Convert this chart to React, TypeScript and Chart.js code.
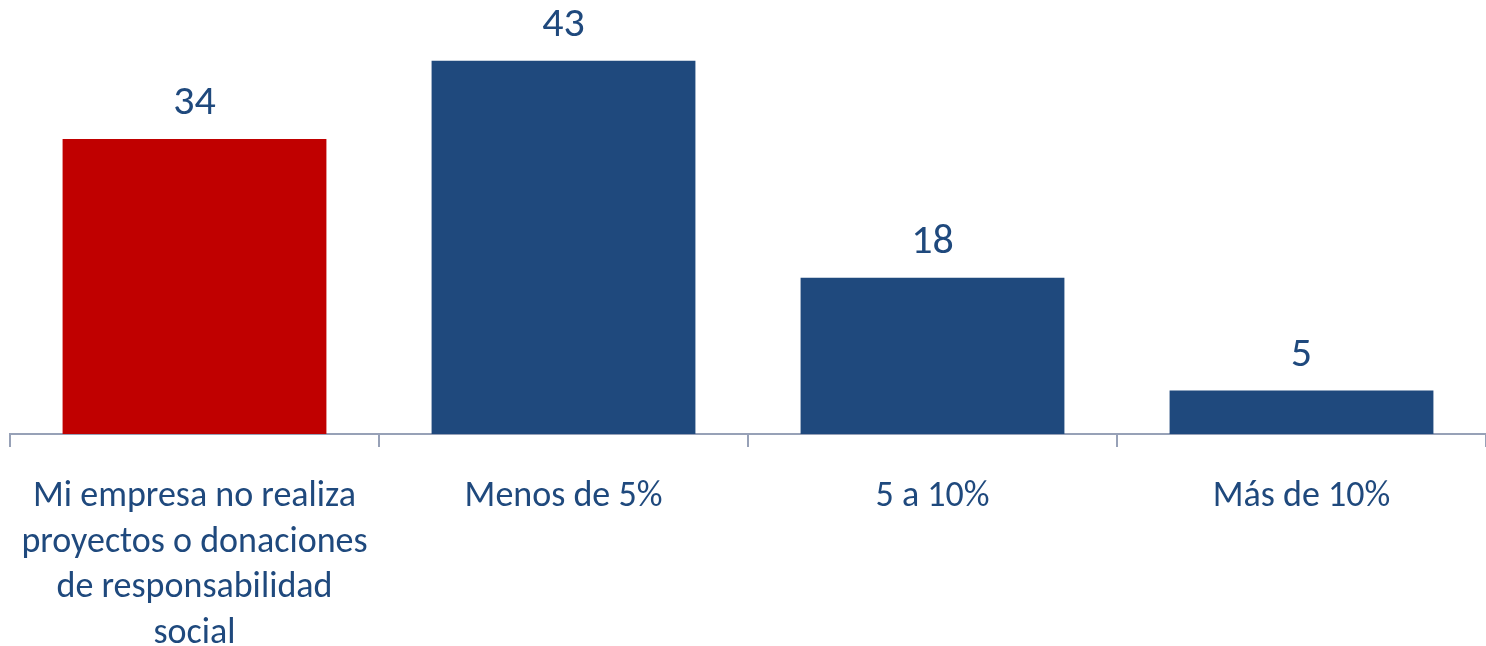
import React, { useEffect, useRef } from "react";
import { Chart, registerables } from "chart.js";

Chart.register(...registerables);

const categories: string[][] = [
  ["Mi empresa no realiza", "proyectos o donaciones", "de responsabilidad", "social"],
  ["Menos de 5%"],
  ["5 a 10%"],
  ["Más de 10%"],
];
const values: number[] = [34, 43, 18, 5];
const barColors: string[] = ["#C00000", "#1F497D", "#1F497D", "#1F497D"];

const FONT = "Carlito, Lato, sans-serif";
const TEXT = "#1F497D";

const valueLabels = {
  id: "valueLabels",
  afterDatasetsDraw(chart: any) {
    const ctx = chart.ctx;
    const meta = chart.getDatasetMeta(0);
    ctx.save();
    ctx.fillStyle = TEXT;
    ctx.font = `42px ${FONT}`;
    ctx.textAlign = "center";
    ctx.textBaseline = "middle";
    meta.data.forEach((bar: any, i: number) => {
      ctx.fillText(String(values[i]), bar.x, bar.y - 35);
    });
    ctx.restore();
  },
};

export default function App() {
  const ref = useRef<HTMLCanvasElement>(null);
  useEffect(() => {
    if (!ref.current) return;
    const chart = new Chart(ref.current, {
      type: "bar",
      data: {
        labels: categories,
        datasets: [
          {
            data: values,
            backgroundColor: barColors,
            categoryPercentage: 0.715,
            barPercentage: 1,
          },
        ],
      },
      options: {
        responsive: false,
        animation: false,
        devicePixelRatio: 1,
        layout: { padding: { left: 10, right: 0, top: 0, bottom: 0 } },
        plugins: { legend: { display: false }, tooltip: { enabled: false } },
        scales: {
          y: { display: false, min: 0, max: 50 },
          x: {
            offset: true,
            afterFit: (scale: any) => {
              scale.height = 212;
              scale.paddingLeft = 0;
              scale.paddingRight = 0;
            },
            grid: {
              display: true,
              drawOnChartArea: false,
              offset: true,
              tickLength: 13,
              color: "#97A1B7",
              lineWidth: 2,
            },
            border: { display: true, color: "#97A1B7", width: 2 },
            ticks: {
              color: TEXT,
              font: { family: FONT, size: 36, lineHeight: 1.27 },
              padding: 27,
              maxRotation: 0,
              autoSkip: false,
            },
          },
        },
      },
      plugins: [valueLabels],
    });
    return () => chart.destroy();
  }, []);
  return (
    <div style={{ position: "absolute", left: 0, top: 0, width: 1486, height: 646, background: "#fff" }}>
      <canvas ref={ref} width={1486} height={646} style={{ display: "block" }} />
    </div>
  );
}
